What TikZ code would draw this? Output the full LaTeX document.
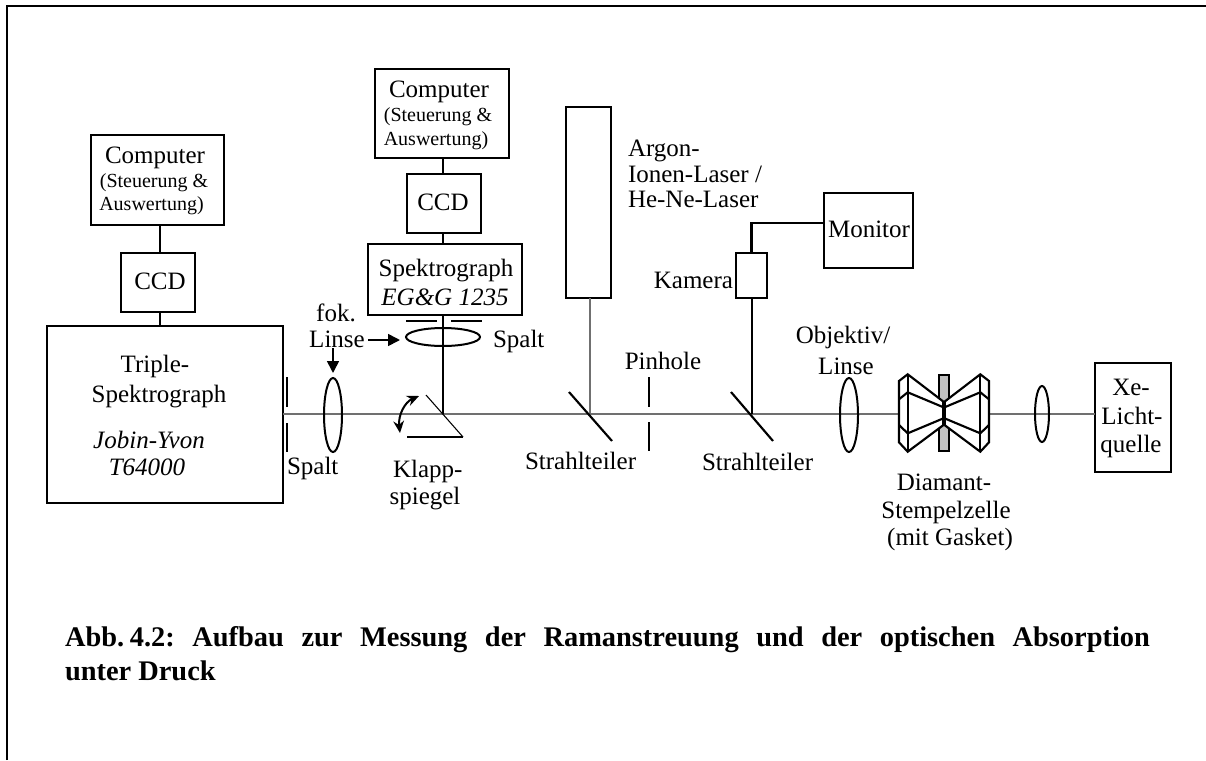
\documentclass[tikz,border=0pt]{standalone}
\usepackage{fontspec}
\setmainfont{Liberation Serif}
\usetikzlibrary{shapes.geometric,arrows.meta,calc}
\definecolor{beamgray}{RGB}{112,112,112}
\definecolor{gasketgray}{RGB}{192,192,192}
\newcommand{\bigf}{\fontsize{18.75}{22}\selectfont}
\newcommand{\smallf}{\fontsize{15}{18}\selectfont}
\tikzset{
  boxn/.style 2 args={draw,line width=1.6pt,minimum width=#1*0.75pt,minimum height=#2*0.75pt,inner sep=0pt,outer sep=0pt},
  lensn/.style 2 args={draw,ellipse,line width=1.5pt,minimum width=#1*0.75pt,minimum height=#2*0.75pt,inner sep=0pt,outer sep=0pt},
  lab/.style={inner sep=0pt,outer sep=0pt,anchor=base,font=\bigf},
  labl/.style={lab,anchor=base west},
  labr/.style={lab,anchor=base east},
  slab/.style={lab,font=\smallf},
  ital/.style={lab,font=\bigf\itshape},
  beam/.style={draw=beamgray,line width=1.2pt},
  thinl/.style={draw=black,line width=0.8pt},
  link/.style={draw=black,line width=1.6pt},
  optic/.style={draw=black,line width=1.6pt},
  dia/.style={draw=black,line width=1.6pt,fill=white,line join=miter},
  arr/.style={draw=black,line width=1.2pt,-{Triangle[length=9pt,width=9pt]}},
}
\begin{document}
\begin{tikzpicture}[x=0.75pt,y=-0.75pt]
\useasboundingbox (0,0) rectangle (1206,760);
% frame
\coordinate (fbl) at (7,760);
\coordinate (ftl) at (7,6);
\coordinate (ftr) at (1206,6);
\draw[line width=1.6pt] (fbl) -- (ftl) -- (ftr);

% boxes
\node[boxn={133}{90}] (comp1) at (157.5,180) {};
\node[boxn={74}{59}] (ccd1) at (158,282.5) {};
\node[boxn={236}{177}] (triple) at (165,414.5) {};
\node[boxn={134}{89}] (comp2) at (442,113.5) {};
\node[boxn={74}{59}] (ccd2) at (444,203.5) {};
\node[boxn={154}{71}] (spek) at (445,279.5) {};
\node[boxn={45}{191}] (laser) at (588.5,202.5) {};
\node[boxn={31}{45}] (kamera) at (751.5,275.5) {};
\node[boxn={89}{75}] (monitor) at (868.5,230.5) {};
\node[boxn={76}{109}] (xe) at (1133,417.5) {};

% beam coordinates
\coordinate (bx) at (0,414);
\coordinate (cellL) at (901,414);
\coordinate (cellR) at (990,414);
\coordinate (bsA) at (590,414);
\coordinate (bsB) at (752,414);
\coordinate (klapp) at (443,414);
\coordinate (l1x) at (160,0);
\coordinate (l2x) at (443,0);

% beams
\draw[beam] (triple.east |- bx) -- (cellL);
\draw[beam] (cellR) -- (xe.west |- bx);
\draw[beam] (laser.south -| bsA) -- (bsA);
\draw[thinl] (kamera.south -| bsB) -- (bsB);
\draw[thinl] (spek.south -| klapp) -- (klapp);

% links
\draw[link] (l1x |- comp1.south) -- (l1x |- ccd1.north);
\draw[link] (l1x |- ccd1.south) -- (l1x |- triple.north);
\draw[link] (l2x |- comp2.south) -- (l2x |- ccd2.north);
\draw[link] (l2x |- ccd2.south) -- (l2x |- spek.north);
\coordinate (mon) at (824,223);
\draw[link] (kamera.north) |- (mon);

% lenses
\node[lensn={18}{74}] (lens1) at (333,415) {};
\node[lensn={74}{18}] (lens2) at (443,337) {};
\node[lensn={18}{74}] (lens3) at (849,415) {};
\node[lensn={14}{56}] (lens4) at (1042,414) {};

% slits
\coordinate (s1a) at (287,377); \coordinate (s1b) at (287,407);
\coordinate (s1c) at (287,423); \coordinate (s1d) at (287,452);
\draw[optic] (s1a) -- (s1b); \draw[optic] (s1c) -- (s1d);
\coordinate (s2a) at (406,321); \coordinate (s2b) at (437,321);
\coordinate (s2c) at (451,321); \coordinate (s2d) at (482,321);
\draw[optic] (s2a) -- (s2b); \draw[optic] (s2c) -- (s2d);
\coordinate (phA) at (649,377); \coordinate (phB) at (649,407);
\coordinate (phC) at (649,422); \coordinate (phD) at (649,451);
\draw[optic] (phA) -- (phB); \draw[optic] (phC) -- (phD);

% beam splitters
\coordinate (b1a) at (569,392); \coordinate (b1b) at (612,441);
\coordinate (b2a) at (731,392); \coordinate (b2b) at (773,441);
\draw[optic] (b1a) -- (b1b);
\draw[optic] (b2a) -- (b2b);

% flip mirror
\coordinate (k1) at (426,395); \coordinate (k2) at (463,437); \coordinate (k3) at (407,437);
\draw[thinl] (k1) -- (k2);
\draw[optic] (k3) -- (k2);
\coordinate (kc1) at (419,396); \coordinate (kc2) at (400,433);
\draw[line width=1.5pt,{Stealth[length=9pt,width=8pt]}-{Stealth[length=9pt,width=8pt]}] (kc1) .. controls (405,402) and (398,415) .. (kc2);

% arrows
\coordinate (a1) at (368,340);
\coordinate (a2) at (333,348);
\draw[arr,shorten >=4.5pt] (a1) -- (a1 -| lens2.west);
\draw[arr,shorten >=3.75pt] (a2) -- (lens1.north);

% diamond cell
\node[draw=black,line width=1.3pt,fill=gasketgray,minimum width=7.5pt,minimum height=56.5pt,inner sep=0pt,outer sep=0pt] (gasket) at (943.8,413) {};
\draw[dia] (907.7,374.3) -- (899,381) -- (899,442.3) -- (907.7,451.7) -- (943.5,425) -- (943.5,401.7) -- cycle;
\draw[dia] (980.3,374.3) -- (989,381) -- (989,442.3) -- (980.3,451.7) -- (944.5,425) -- (944.5,401.7) -- cycle;
\draw[optic] (907.7,374.3) -- (907.7,451.7);
\draw[optic] (980.3,374.3) -- (980.3,451.7);
\draw[optic] (899,399.3) -- (907.7,392.3) -- (943.5,407.3);
\draw[optic] (899,425) -- (907.7,433.3) -- (943.5,418.3);
\draw[optic] (989,399.3) -- (980.3,392.3) -- (944.5,407.3);
\draw[optic] (989,425) -- (980.3,433.3) -- (944.5,418.3);
\draw[line width=3pt] (944,401.7) -- (944,425);

% labels
\node[lab] (t1) at (155,163) {Computer};
\node[slab] (t2) at (154,187) {(Steuerung \&};
\node[slab] (t3) at (151.5,210) {Auswertung)};
\node[lab] (t4) at (160,289) {CCD};
\node[lab] (t5) at (155,372) {Triple-};
\node[lab] (t6) at (159,402) {Spektrograph};
\node[ital] (t7) at (149,448) {Jobin-Yvon};
\node[ital] (t8) at (147,475) {T64000};
\node[labl] (t9) at (287,474) {Spalt};
\node[lab] (t10) at (439,97) {Computer};
\node[slab] (t11) at (438,121) {(Steuerung \&};
\node[slab] (t12) at (436,145) {Auswertung)};
\node[lab] (t13) at (443,210) {CCD};
\node[lab] (t14) at (446,276) {Spektrograph};
\node[ital] (t15) at (445,305) {EG\&G 1235};
\node[lab] (t16) at (336,321) {fok.};
\node[lab] (t17) at (337,347) {Linse};
\node[labl] (t18) at (493,347) {Spalt};
\node[labl] (t19) at (393,477) {Klapp-};
\node[lab] (t20) at (425,504) {spiegel};
\node[labl] (t21) at (628,156) {Argon-};
\node[labl] (t22) at (628,182) {Ionen-Laser /};
\node[labl] (t23) at (628,207) {He-Ne-Laser};
\node[labr] (t24) at (733,288) {Kamera};
\node[lab] (t25) at (869,237) {Monitor};
\node[lab] (t26) at (663,369) {Pinhole};
\node[labl] (t27) at (525,469) {Strahlteiler};
\node[labl] (t28) at (702,470) {Strahlteiler};
\node[lab] (t29) at (843,343) {Objektiv/};
\node[lab] (t30) at (846,374) {Linse};
\node[lab] (t31) at (944,490) {Diamant-};
\node[lab] (t32) at (946,518) {Stempelzelle};
\node[lab] (t33) at (950,545) {(mit Gasket)};
\node[lab] (t34) at (1131,395) {Xe-};
\node[lab] (t35) at (1132,424) {Licht-};
\node[lab] (t36) at (1131,452) {quelle};
\node[anchor=north west,inner sep=0pt,outer sep=0pt,text width=1085*0.75pt,align=justify,font=\fontsize{21.3}{25.5}\selectfont\bfseries\frenchspacing] (cap) at (65,626)
  {Abb.\hspace{0.2em}4.2: Aufbau zur Messung der Ramanstreuung und der optischen Absorption\linebreak unter Druck};
\end{tikzpicture}
\end{document}
